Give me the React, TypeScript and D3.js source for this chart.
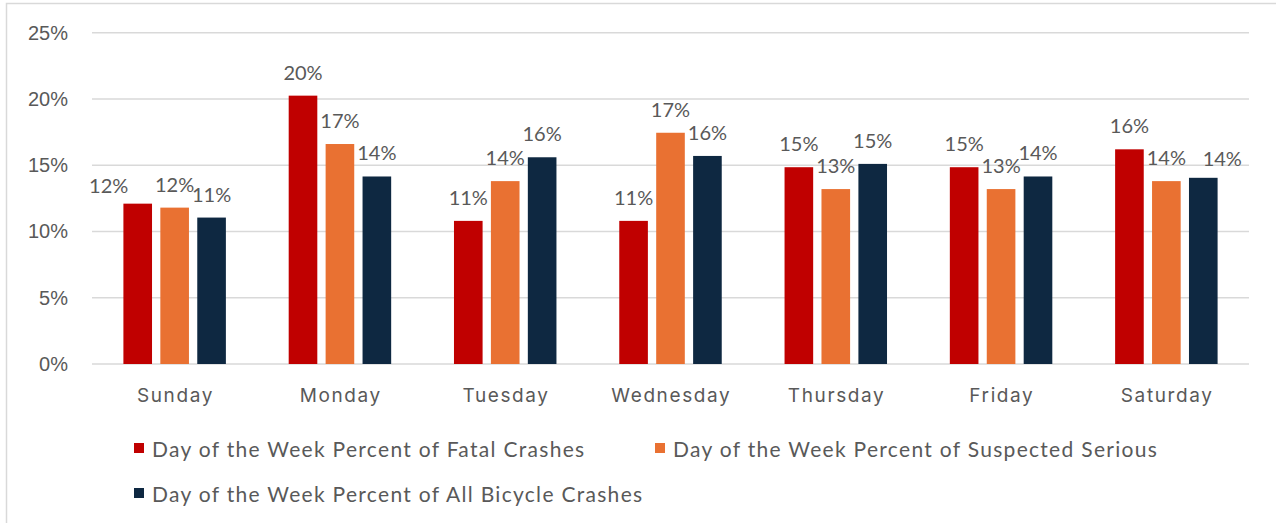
import React from "react";
import * as d3 from "d3";

const days = ["Sunday", "Monday", "Tuesday", "Wednesday", "Thursday", "Friday", "Saturday"];
const fatal = [12.1, 20.25, 10.8, 10.8, 14.85, 14.85, 16.2];
const serious = [11.8, 16.6, 13.8, 17.45, 13.2, 13.2, 13.8];
const allBike = [11.05, 14.15, 15.6, 15.7, 15.1, 14.15, 14.05];
const seriesNames = [
  "Day of the Week Percent of Fatal Crashes",
  "Day of the Week Percent of Suspected Serious",
  "Day of the Week Percent of All Bicycle Crashes",
];
const yTicks = [0, 5, 10, 15, 20, 25];

const colors = ["#C00000", "#E97132", "#0E2841"];
// Excel moved a couple of labels to avoid overlaps
const labelNudge: Record<string, [number, number]> = {
  "0-0": [-29, 5],
  "2-6": [19, 4],
};

const W = 1276;
const H = 523;
const textColor = "#595959";

export default function App() {
  const series = [fatal, serious, allBike];
  const x0 = d3.scaleBand<string>().domain(days).range([92, 1249]).paddingInner(0.38).paddingOuter(0.19);
  const x1 = d3.scaleBand<number>().domain([0, 1, 2]).range([0, x0.bandwidth()]).paddingInner(0.225);
  const y = d3.scaleLinear().domain([0, 25]).range([364, 32.7]);

  return (
    <svg width={W} height={H} style={{ position: "absolute", left: 0, top: 0, background: "#fff" }}>
      <rect x={6.5} y={3.5} width={W + 10} height={H + 10} fill="#fff" stroke="#d9d9d9" strokeWidth={1.5} />
      {yTicks.map((t) => (
        <g key={t}>
          <line x1={92} x2={1249} y1={y(t)} y2={y(t)} stroke="#d9d9d9" strokeWidth={1.5} />
          <text x={68} y={y(t) + 7} textAnchor="end" fontFamily="'Liberation Sans', Arial, sans-serif" fontSize={20} fill={textColor}>
            {t}%
          </text>
        </g>
      ))}
      {days.map((d, i) => (
        <g key={d} transform={`translate(${x0(d)},0)`}>
          {series.map((s, k) => (
            <rect key={k} x={x1(k)} y={y(s[i])} width={x1.bandwidth()} height={y(0) - y(s[i])} fill={colors[k]} />
          ))}
          {series.map((s, k) => {
            const n = labelNudge[`${k}-${i}`] || [0, 0];
            return (
              <text
                key={"l" + k}
                x={(x1(k) as number) + x1.bandwidth() / 2 + n[0]}
                y={y(s[i]) - 16 + n[1]}
                textAnchor="middle"
                fontFamily="Lato, sans-serif"
                fontSize={20}
                fill={textColor}
              >
                {Math.round(s[i])}%
              </text>
            );
          })}
          <text
            x={x0.bandwidth() / 2 + 0.8}
            y={401.7}
            textAnchor="middle"
            fontFamily="Inter, sans-serif"
            fontSize={19}
            letterSpacing={1.6}
            fill={textColor}
          >
            {d}
          </text>
        </g>
      ))}
      {seriesNames.map((name, k) => {
        const lx = k === 1 ? 655 : 134;
        const ly = k === 2 ? 502 : 457;
        return (
          <g key={name}>
            <rect x={lx} y={ly - 14} width={10} height={10} fill={colors[k]} />
            <text x={lx + 18} y={ly} fontFamily="Lato, sans-serif" fontSize={21} letterSpacing={1.3} fill={textColor}>
              {name}
            </text>
          </g>
        );
      })}
    </svg>
  );
}
